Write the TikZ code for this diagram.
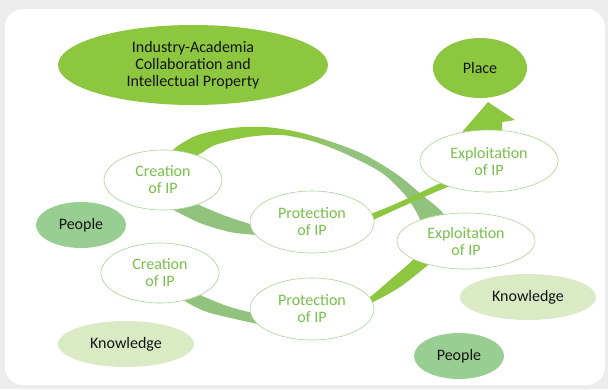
\documentclass[tikz,border=0pt]{standalone}
\usepackage{fontspec}
\setmainfont{Carlito}
\usetikzlibrary{shapes.geometric}
\definecolor{bggray}{RGB}{236,236,236}
\definecolor{brightg}{RGB}{141,198,63}
\definecolor{mutedg}{RGB}{146,195,126}
\definecolor{peopleg}{RGB}{152,206,145}
\definecolor{knowg}{RGB}{217,234,197}
\definecolor{txtg}{RGB}{120,192,74}
\definecolor{edgeg}{RGB}{172,212,146}
\definecolor{inkc}{RGB}{20,20,20}
\pgfdeclarehorizontalshading{arcshade}{100bp}{color(0bp)=(brightg); color(47bp)=(brightg); color(56bp)=(mutedg); color(100bp)=(mutedg)}
\pgfdeclarelayer{back}
\pgfsetlayers{back,main}
\begin{document}
\begin{tikzpicture}[x=1pt,y=-1pt,
  lbl/.style={font=\fontsize{16}{17}\selectfont, align=center, inner sep=0pt},
  blob/.style={ellipse, lbl, draw=none, text=inkc},
  stage/.style={ellipse, lbl, fill=white, draw=edgeg, line width=0.6pt, text=txtg},
]
\useasboundingbox (0,0) rectangle (608,389);

% nodes
\node[blob, fill=brightg, minimum width=270pt, minimum height=80pt] (iac) at (193,65) {Industry-Academia\\Collaboration and\\Intellectual Property};
\node[blob, fill=brightg, minimum width=94pt, minimum height=60pt] (place) at (480,68) {Place};
\node[stage, minimum width=118pt, minimum height=60pt] (cre1) at (163,180) {Creation\\of IP};
\node[stage, minimum width=124pt, minimum height=62pt] (pro1) at (312,222) {Protection\\of IP};
\node[stage, minimum width=138pt, minimum height=62pt] (exp1) at (489,161) {Exploitation\\of IP};
\node[stage, minimum width=138pt, minimum height=56pt] (exp2) at (466,241) {Exploitation\\of IP};
\node[blob, fill=peopleg, minimum width=90pt, minimum height=46pt] (peo1) at (81,225) {People};
\node[stage, minimum width=118pt, minimum height=60pt] (cre2) at (160,273) {Creation\\of IP};
\node[stage, minimum width=124pt, minimum height=62pt] (pro2) at (312,309) {Protection\\of IP};
\node[blob, fill=knowg, minimum width=136pt, minimum height=46pt] (kno1) at (126,344) {Knowledge};
\node[blob, fill=knowg, minimum width=136pt, minimum height=46pt] (kno2) at (528,297) {Knowledge};
\node[blob, fill=peopleg, minimum width=90pt, minimum height=46pt] (peo2) at (459,356) {People};

\begin{pgfonlayer}{back}
\fill[bggray] (0,0) rectangle (608,389);
\fill[white, rounded corners=18pt] (5,9) rectangle (605,385);
% big arc from creation (upper) over the top to exploitation (lower)
\shade[shading=arcshade] plot[smooth] coordinates {(168,158) (175,148) (198,135) (232,128) (265,127) (298,132) (332,142) (365,155) (398,175) (422,195) (442,212) (450,230)} -- plot[smooth] coordinates {(424,232) (418,215) (405,195) (382,173) (348,155) (315,142) (282,135) (248,137) (215,145) (198,155) (180,160)} -- cycle;
% creation (upper) -> protection (upper)
\fill[mutedg] plot[smooth] coordinates {(190,200) (197,204) (223,215) (253,225) (262,227)} -- plot[smooth] coordinates {(262,237) (255,235) (230,232) (200,223) (172,209) (168,204)} -- cycle;
% creation (lower) -> protection (lower)
\fill[mutedg] plot[smooth] coordinates {(195,292) (200,295) (227,306) (253,313) (262,314)} -- plot[smooth] coordinates {(262,324) (253,323) (207,312) (183,300) (178,296)} -- cycle;
% protection (lower) -> exploitation (lower)
\fill[brightg] plot[smooth] coordinates {(362,299) (370,297) (390,280) (413,260) (418,252)} -- plot[smooth] coordinates {(436,256) (428,265) (400,287) (373,302) (364,304)} -- cycle;
% protection (upper) -> place, curved block arrow
\fill[brightg] (365,217) -- (373,213) .. controls (395,205) and (425,190) .. (443,182) .. controls (458,174) and (463,150) .. (463,131) -- (488,102) -- (515,120) -- (502,122) -- (502,131) .. controls (500,160) and (470,178) .. (450,186) .. controls (425,196) and (395,210) .. (373,220) -- cycle;
\end{pgfonlayer}
\end{tikzpicture}
\end{document}
